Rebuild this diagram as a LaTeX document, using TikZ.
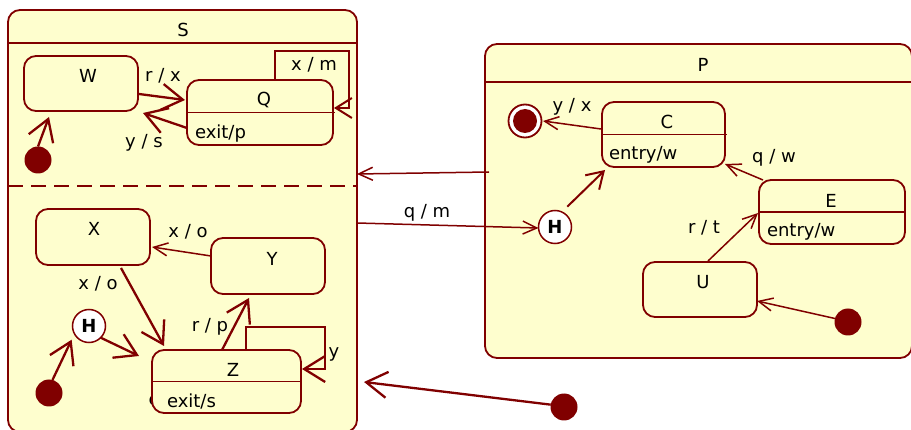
\documentclass[tikz,border=0pt]{standalone}
\usepackage{fontspec}
\setmainfont{DejaVu Sans}
\usetikzlibrary{arrows.meta}
\definecolor{dred}{RGB}{128,0,0}
\definecolor{ylw}{RGB}{254,254,206}
\begin{document}
\begin{tikzpicture}[x=1pt,y=-1pt,
  every node/.style={font=\fontsize{18}{21}\selectfont, inner sep=0pt, outer sep=0pt},
  box/.style={draw=dred, fill=ylw, line width=1.8pt, rounded corners=12pt},
  init/.style={circle, fill=dred, minimum size=27pt},
  hist/.style={circle, draw=dred, fill=white, line width=1.5pt, minimum size=33pt,
    font=\fontsize{18}{21}\selectfont\bfseries},
  sep/.style={draw=dred, line width=1.8pt},
  big/.style={draw=dred, line width=2.3pt, -{Straight Barb[length=21pt,width=26pt]}},
  mid/.style={draw=dred, line width=2pt, -{Straight Barb[length=16pt,width=20pt]}},
  thin/.style={draw=dred, line width=1.5pt, -{Straight Barb[length=14pt,width=13pt]}}]
\useasboundingbox (0,0) rectangle (911,430);

% composite states
\node[box, minimum width=349pt, minimum height=422pt] (S) at (182.5,221) {};
\draw[sep] ([shift={(0,33)}]S.north west) -- ([shift={(0,33)}]S.north east);
\draw[sep, dash pattern=on 15pt off 8pt] ([shift={(0,176)}]S.north west) -- ([shift={(0,176)}]S.north east);
\node (Sn) at (183,30) {S};

\node[box, minimum width=427pt, minimum height=314pt] (P) at (698.5,201) {};
\draw[sep] ([shift={(0,38)}]P.north west) -- ([shift={(0,38)}]P.north east);
\node (Pn) at (703,65) {P};

% simple states
\node[box, minimum width=114pt, minimum height=55pt] (W) at (81,83.5) {};
\node (Wn) at (88,76) {W};
\node[box, minimum width=146pt, minimum height=65pt] (Q) at (260,112.5) {};
\draw[sep] (Q.west) -- ([xshift=2pt]Q.east);
\node (Qn) at (264,100) {Q};
\node[anchor=west] (Qx) at (195,134) {exit/p};

\node[box, minimum width=114pt, minimum height=56pt] (X) at (93,237) {};
\node (Xn) at (94,229) {X};
\node[box, minimum width=114pt, minimum height=56pt] (Y) at (268,266) {};
\node (Yn) at (272,259) {Y};
\node[anchor=west] (ez) at (148.5,401) {e};
\node[box, minimum width=149pt, minimum height=63pt] (Z) at (226.5,381.5) {};
\draw[sep] (Z.west) -- (Z.east);
\node (Zn) at (233,370) {Z};
\node[anchor=west] (Zx) at (167,401) {exit/s};

\node[box, minimum width=123pt, minimum height=65pt] (C) at (663.5,134.5) {};
\draw[sep] (C.west) -- ([xshift=2pt]C.east);
\node (Cn) at (667,122) {C};
\node[anchor=west] (Cx) at (609,155) {entry/w};
\node[box, minimum width=146pt, minimum height=64pt] (E) at (832,212) {};
\draw[sep] (E.west) -- (E.east);
\node (En) at (831,201) {E};
\node[anchor=west] (Ex) at (767,232) {entry/w};
\node[box, minimum width=114pt, minimum height=55pt] (U) at (700,289.5) {};
\node (Un) at (703,282) {U};

% pseudo states
\node[init] (i1) at (38,160) {};
\node[hist] (H1) at (89,326) {H};
\node[init] (i2) at (49,393) {};
\node[hist] (H2) at (555,227) {H};
\node[circle, draw=dred, fill=white, line width=1.8pt, minimum size=33pt] (fin) at (525,121) {};
\fill[dred] (fin.center) circle (12pt);
\node[init] (i3) at (848,322) {};
\node[init] (i4) at (564,407) {};

% transitions
\draw[big] (i1.north) -- ([shift={(-32,6)}]W.south);
\draw[big] ([shift={(1,10.5)}]W.east) -- ([shift={(-2,-12.5)}]Q.west);
\draw[big] ([shift={(0,15.5)}]Q.west) -- ([shift={(5,2)}]W.south east);
\draw[mid] ([shift={(15,0)}]Q.north) -- ++(0,-29) -| ([shift={(16,-4.5)}]Q.east) -- ([shift={(1,-4.5)}]Q.east);
\draw[thin] ([shift={(0,-10)}]Y.west) -- ([shift={(2,10)}]X.east);
\draw[big] ([shift={(28,3)}]X.south) -- ([shift={(12,-4)}]Z.north west);
\draw[big] (i2.75) -- ([shift={(-4,4)}]H1.216);
\draw[big] (H1.-45) -- ([shift={(-13,6)}]Z.north west);
\draw[big] ([shift={(-4.5,0)}]Z.north) -- ([shift={(-19,4)}]Y.south);
\draw[big] ([shift={(19.5,0)}]Z.north) -- ++(0,-23) -| ([shift={(24,-12.5)}]Z.east) -- ([shift={(1,-12.5)}]Z.east);
\draw[thin] ([shift={(4,-29)}]P.west) -- ([shift={(0,-47)}]S.east);
\draw[thin] ([shift={(0,2)}]S.east) -- ([shift={(0,1)}]H2.west);
\draw[mid] ([shift={(4,-6)}]H2.60) -- ([shift={(3,3)}]C.south west);
\draw[thin] ([shift={(-1,-5.5)}]C.west) -- ([shift={(1.5,0)}]fin.east);
\draw[thin] ([shift={(4,0)}]E.north west) -- ([shift={(0,-3)}]C.south east);
\draw[thin] ([shift={(8,-1)}]U.north) -- ([shift={(-1,1)}]E.west);
\draw[thin] (i3.165) -- ([shift={(0,11.5)}]U.east);
\draw[big] (i4.170) -- ([shift={(7,-50)}]S.south east);

% transition labels
\node (tWQ) at (163,76) {r / x};
\node (tQW) at (144,143) {y / s};
\node (tQQ) at (314,65) {x / m};
\node (tYX) at (188,232) {x / o};
\node (tXZ) at (98,284) {x / o};
\node (tZY) at (210,327) {r / p};
\node (tZZ) at (334,354) {y};
\node (tSH) at (427,213) {q / m};
\node (tCF) at (572,107) {y / x};
\node (tEC) at (774,158) {q / w};
\node (tUE) at (704,228) {r / t};
\end{tikzpicture}
\end{document}
